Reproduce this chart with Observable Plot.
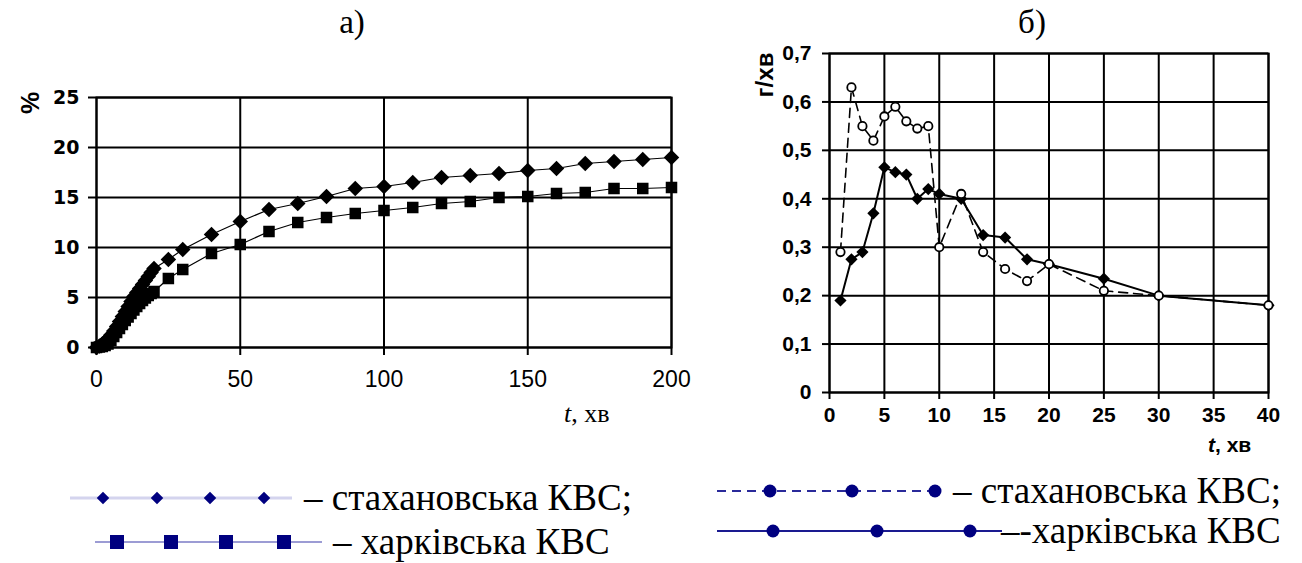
<!DOCTYPE html>
<html><head><meta charset="utf-8">
<script src="https://cdn.jsdelivr.net/npm/d3@7"></script>
<script src="https://cdn.jsdelivr.net/npm/@observablehq/plot@0.6"></script>
<style>
body{margin:0;background:#fff;}
#root{position:relative;width:1302px;height:563px;overflow:hidden;background:#fff;}
.abs{position:absolute;white-space:nowrap;color:#000;line-height:1;}
.serif{font-family:"Liberation Serif","Times New Roman",serif;}
.sans{font-family:"Liberation Sans",Arial,sans-serif;}
.c{transform:translate(-50%,-50%);}
.rot{transform:translate(-50%,-50%) rotate(-90deg);}
</style></head><body><div id="root"></div>
<script>
// ---------- data: panel а) ----------
const tA = [0,1,2,3,4,5,6,7,8,9,10,11,12,13,14,15,16,17,18,19,20,25,30,40,50,60,70,80,90,100,110,120,130,140,150,160,170,180,190,200];
const stakhA = [0,0.15,0.35,0.6,0.9,1.25,1.65,2.1,2.6,3.1,3.6,4.1,4.6,5.1,5.5,5.9,6.3,6.7,7.1,7.5,7.9,8.8,9.8,11.3,12.6,13.8,14.4,15.1,15.9,16.1,16.5,17.0,17.2,17.4,17.7,17.9,18.4,18.6,18.8,19.0];
const kharkA = [0,0.05,0.1,0.2,0.35,0.7,1.1,1.5,1.9,2.3,2.7,3.05,3.4,3.75,4.1,4.4,4.7,4.95,5.2,5.4,5.6,6.9,7.8,9.4,10.3,11.6,12.5,13.0,13.4,13.7,14.0,14.4,14.6,15.0,15.1,15.4,15.5,15.9,15.9,16.0];
const xTicksA = [0,50,100,150,200];
const yTicksA = [0,5,10,15,20,25];

// ---------- data: panel б) ----------
const tB = [1,2,3,4,5,6,7,8,9,10,12,14,16,18,20,25,30,40];
const stakhB = [0.29,0.63,0.55,0.52,0.57,0.59,0.56,0.545,0.55,0.30,0.41,0.29,0.255,0.23,0.265,0.21,0.20,0.18];
const kharkB = [0.19,0.275,0.29,0.37,0.465,0.455,0.45,0.40,0.42,0.41,0.40,0.325,0.32,0.275,0.265,0.235,0.20,0.18];
const xTicksB = [0,5,10,15,20,25,30,35,40];
const yTicksB = [0,0.1,0.2,0.3,0.4,0.5,0.6,0.7];
const yLabelsB = ["0","0,1","0,2","0,3","0,4","0,5","0,6","0,7"];

// ---------- text ----------
const titleA = "а)", titleB = "б)";
const yLabelA = "%", yLabelB = "г/хв";
const legendNames = ["стахановська КВС;", "харківська КВС"];

const root = document.getElementById("root");
function addDiv(html, cls, css){
  const d = document.createElement("div");
  d.className = "abs " + cls;
  d.innerHTML = html;
  Object.assign(d.style, css);
  root.appendChild(d);
  return d;
}

// ---------- chart а) ----------
const dataA = tA.map((t,i)=>({t, y: stakhA[i], s:"S"})).concat(tA.map((t,i)=>({t, y: kharkA[i], s:"K"})));
const chartA = Plot.plot({
  width: 700, height: 380,
  marginLeft: 96, marginRight: 29, marginTop: 37, marginBottom: 93,
  style: {background: "transparent", overflow: "visible", fontFamily: "Liberation Sans, Arial, sans-serif"},
  x: {domain: [0,200]},
  y: {domain: [0,25]},
  marks: [
    Plot.gridX(xTicksA, {stroke: "#000", strokeOpacity: 1, strokeWidth: 2}),
    Plot.gridY(yTicksA, {stroke: "#000", strokeOpacity: 1, strokeWidth: 2}),
    Plot.frame({stroke: "#000", strokeWidth: 2}),
    Plot.axisX({ticks: xTicksA, tickSize: 8, strokeWidth: 2, tickPadding: 15, label: null,
      fontSize: 23, fontFamily: "Liberation Sans Narrow, Liberation Sans, Arial, sans-serif", fill: "#000"}),
    Plot.axisY({ticks: yTicksA, tickSize: 8, strokeWidth: 2, tickPadding: 9, label: null,
      fontSize: 19, fontWeight: "bold", fontFamily: "DejaVu Sans, sans-serif", fill: "#000"}),
    Plot.line(dataA, {x: "t", y: "y", z: "s", stroke: "#000", strokeWidth: 1.2}),
    Plot.dot(dataA.filter(d=>d.s==="K"), {x: "t", y: "y", symbol: "square", r: 6.5, fill: "#000", stroke: "none"}),
    Plot.dot(dataA.filter(d=>d.s==="S"), {x: "t", y: "y", symbol: "diamond2", r: 7, fill: "#000", stroke: "none"})
  ]
});
Object.assign(chartA.style, {position: "absolute", left: "0px", top: "60px"});
root.appendChild(chartA);

// ---------- chart б) ----------
const dataB = tB.map((t,i)=>({t, y: stakhB[i], s:"S"})).concat(tB.map((t,i)=>({t, y: kharkB[i], s:"K"})));
const chartB = Plot.plot({
  width: 582, height: 410,
  marginLeft: 109, marginRight: 34, marginTop: 13, marginBottom: 58,
  style: {background: "transparent", overflow: "visible", fontFamily: "Liberation Sans, Arial, sans-serif"},
  x: {domain: [0,40]},
  y: {domain: [0,0.7]},
  marks: [
    Plot.gridX(xTicksB, {stroke: "#000", strokeOpacity: 1, strokeWidth: 2}),
    Plot.gridY(yTicksB, {stroke: "#000", strokeOpacity: 1, strokeWidth: 2}),
    Plot.frame({stroke: "#000", strokeWidth: 2}),
    Plot.axisX({ticks: xTicksB, tickSize: 7, strokeWidth: 2, tickPadding: 8, label: null,
      fontSize: 21, fontWeight: "bold", fill: "#000"}),
    Plot.axisY({ticks: yTicksB, tickSize: 7, strokeWidth: 2, tickPadding: 11, label: null,
      tickFormat: (d)=>yLabelsB[yTicksB.findIndex(v=>Math.abs(v-d)<1e-9)],
      fontSize: 21, fontWeight: "bold", fill: "#000"}),
    Plot.line(dataB.filter(d=>d.s==="K"), {x: "t", y: "y", stroke: "#000", strokeWidth: 2}),
    Plot.line(dataB.filter(d=>d.s==="S"), {x: "t", y: "y", stroke: "#000", strokeWidth: 1.6, strokeDasharray: "9,6"}),
    Plot.dot(dataB.filter(d=>d.s==="K"), {x: "t", y: "y", symbol: "diamond2", r: 5.5, fill: "#000", stroke: "none"}),
    Plot.dot(dataB.filter(d=>d.s==="S"), {x: "t", y: "y", symbol: "circle", r: 4.2, fill: "#fff", stroke: "#000", strokeWidth: 1.8})
  ]
});
Object.assign(chartB.style, {position: "absolute", left: "720px", top: "40px"});
root.appendChild(chartB);

// ---------- titles & axis labels ----------
addDiv(titleA, "serif c", {left: "352px", top: "22px", fontSize: "33px"});
addDiv(titleB, "serif c", {left: "1032px", top: "22px", fontSize: "33px"});
addDiv(yLabelA, "sans rot", {left: "30px", top: "103px", fontSize: "25px", fontWeight: "bold"});
addDiv(yLabelB, "sans rot", {left: "765px", top: "75px", fontSize: "24px", fontWeight: "bold"});
addDiv('<i>t</i>, хв', "serif", {left: "564px", top: "401px", fontSize: "26px"});
addDiv('<i>t</i>, хв', "sans", {left: "1208px", top: "434px", fontSize: "21px", fontWeight: "bold"});

// ---------- legends ----------
function legendSvg(left, top, w, h, draw){
  const svg = d3.create("svg").attr("width", w).attr("height", h)
    .style("position","absolute").style("left", left+"px").style("top", top+"px");
  draw(svg);
  root.appendChild(svg.node());
}
const navy = "#000080";
// left legend, row 1: diamonds on light line
legendSvg(60, 483, 240, 30, svg=>{
  svg.append("line").attr("x1",10).attr("x2",232).attr("y1",15).attr("y2",15).attr("stroke","#d4d4ee").attr("stroke-width",3);
  [103,157,210,264].forEach(x=>svg.append("path").attr("d", d3.symbol(d3.symbolDiamond2, 100)()).attr("transform",`translate(${x-60},15)`).attr("fill",navy));
});
addDiv("– " + legendNames[0], "serif", {left: "304px", top: "479px", fontSize: "37px"});
// left legend, row 2: squares on line
legendSvg(90, 527, 240, 30, svg=>{
  svg.append("line").attr("x1",5).attr("x2",232).attr("y1",15).attr("y2",15).attr("stroke","#9c9cd4").attr("stroke-width",2);
  [117,171,226,284].forEach(x=>svg.append("rect").attr("x",x-90-7).attr("y",8).attr("width",14).attr("height",14).attr("fill",navy));
});
addDiv("– " + legendNames[1], "serif", {left: "333px", top: "523px", fontSize: "37px"});
// right legend, row 1: dashed with dots
legendSvg(710, 476, 240, 30, svg=>{
  svg.append("line").attr("x1",7).attr("x2",232).attr("y1",15).attr("y2",15).attr("stroke","#2a2a9a").attr("stroke-width",2).attr("stroke-dasharray","9,6");
  [770,852,935].forEach(x=>svg.append("circle").attr("cx",x-710).attr("cy",15).attr("r",6.5).attr("fill",navy));
});
addDiv("– " + legendNames[0], "serif", {left: "953px", top: "472px", fontSize: "37px"});
// right legend, row 2: solid with dots
legendSvg(710, 516, 300, 30, svg=>{
  svg.append("line").attr("x1",7).attr("x2",292).attr("y1",15).attr("y2",15).attr("stroke","#1a1a90").attr("stroke-width",2);
  [773,877,970].forEach(x=>svg.append("circle").attr("cx",x-710).attr("cy",15).attr("r",6.5).attr("fill",navy));
});
addDiv("–-" + legendNames[1], "serif", {left: "1001px", top: "512px", fontSize: "37px"});
</script>
</body></html>
